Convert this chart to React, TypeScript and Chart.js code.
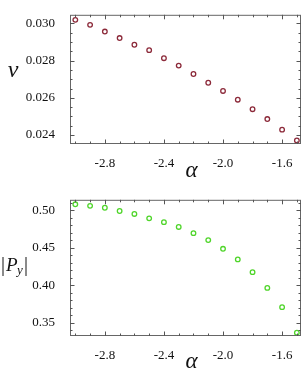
import React, { useEffect, useRef } from "react";
import { Chart, registerables } from "chart.js";

Chart.register(...registerables);

const alpha = [-3.0, -2.9, -2.8, -2.7, -2.6, -2.5, -2.4, -2.3, -2.2, -2.1, -2.0, -1.9, -1.8, -1.7, -1.6, -1.5];
const nu = [0.03019, 0.02992, 0.02956, 0.02921, 0.02885, 0.02856, 0.02813, 0.02773, 0.02728, 0.02681, 0.02637, 0.0259, 0.02539, 0.02486, 0.02429, 0.02371];
const py = [0.5081, 0.506, 0.5035, 0.4991, 0.4952, 0.4893, 0.4842, 0.4778, 0.4695, 0.4602, 0.4486, 0.4344, 0.4174, 0.3963, 0.3706, 0.3364];

const xMajorTicks = [-2.8, -2.4, -2.0, -1.6];
const nuMajorTicks = [0.024, 0.026, 0.028, 0.03];
const pyMajorTicks = [0.35, 0.4, 0.45, 0.5];

const FONT = '"Liberation Serif", "Times New Roman", serif';

type PanelCfg = {
  data: number[];
  color: string;
  yMin: number;
  yMax: number;
  yMajor: number[];
  yMinorStep: number;
  yDigits: number;
  padTop: number;
  xHeight: number;
  height: number;
  drawYLabel: (ctx: CanvasRenderingContext2D) => void;
  alphaY: number;
};

function makeFramePlugin(cfg: PanelCfg) {
  return {
    id: "frameTicks",
    afterDraw(chart: any) {
      const { ctx, chartArea } = chart;
      const xs = chart.scales.x;
      const ys = chart.scales.y;
      const { left, right, top, bottom } = chartArea;
      ctx.save();
      ctx.strokeStyle = "#666";
      ctx.lineWidth = 1;
      ctx.strokeRect(left + 0.5, top + 0.5, right - left - 1, bottom - top - 1);
      ctx.strokeStyle = "#555";
      for (let i = -34; i <= -14; i++) {
        const v = i / 10;
        const px = Math.round(xs.getPixelForValue(v)) + 0.5;
        if (px <= left + 1 || px >= right - 1) continue;
        const major = xMajorTicks.some((m) => Math.abs(m - v) < 1e-6);
        const len = major ? 4.5 : 2.5;
        ctx.beginPath();
        ctx.moveTo(px, bottom);
        ctx.lineTo(px, bottom - len);
        ctx.moveTo(px, top);
        ctx.lineTo(px, top + len);
        ctx.stroke();
      }
      const start = Math.floor(cfg.yMin / cfg.yMinorStep);
      const end = Math.ceil(cfg.yMax / cfg.yMinorStep);
      for (let i = start; i <= end; i++) {
        const v = i * cfg.yMinorStep;
        const pyx = Math.round(ys.getPixelForValue(v)) + 0.5;
        if (pyx <= top + 1 || pyx >= bottom - 1) continue;
        const major = cfg.yMajor.some((m) => Math.abs(m - v) < cfg.yMinorStep / 10);
        const len = major ? 4.5 : 2.5;
        ctx.beginPath();
        ctx.moveTo(left, pyx);
        ctx.lineTo(left + len, pyx);
        ctx.moveTo(right, pyx);
        ctx.lineTo(right - len, pyx);
        ctx.stroke();
      }
      ctx.fillStyle = "#111";
      ctx.textAlign = "center";
      ctx.textBaseline = "middle";
      ctx.font = `italic 23px ${FONT}`;
      ctx.fillText("\u03b1", 191.5, cfg.alphaY);
      cfg.drawYLabel(ctx);
      ctx.restore();
    },
  };
}

function Panel({ cfg }: { cfg: PanelCfg }) {
  const ref = useRef<HTMLCanvasElement | null>(null);
  useEffect(() => {
    if (!ref.current) return;
    const chart = new Chart(ref.current, {
      type: "scatter",
      data: {
        datasets: [
          {
            data: alpha.map((a, i) => ({ x: a, y: cfg.data[i] })),
            borderColor: cfg.color,
            backgroundColor: "rgba(255,255,255,0)",
            pointRadius: 2.3,
            pointBorderWidth: 1.3,
            showLine: false,
          },
        ],
      },
      options: {
        responsive: false,
        animation: false,
        layout: { autoPadding: false, padding: { top: cfg.padTop, right: 3, left: 0, bottom: 0 } },
        plugins: { legend: { display: false }, tooltip: { enabled: false } },
        scales: {
          x: {
            type: "linear",
            min: -3.036,
            max: -1.472,
            grid: { display: false },
            border: { display: false },
            afterBuildTicks: (s: any) => {
              s.ticks = xMajorTicks.map((v) => ({ value: v }));
            },
            afterFit: (s: any) => {
              s.height = cfg.xHeight;
            },
            ticks: {
              padding: 4,
              color: "#111",
              font: { family: FONT, size: 13 },
              maxRotation: 0,
              callback: (v: any) => Number(v).toFixed(1),
            },
          },
          y: {
            type: "linear",
            min: cfg.yMin,
            max: cfg.yMax,
            grid: { display: false },
            border: { display: false },
            afterBuildTicks: (s: any) => {
              s.ticks = cfg.yMajor.map((v) => ({ value: v }));
            },
            afterFit: (s: any) => {
              s.width = 70;
            },
            ticks: {
              padding: 7,
              color: "#111",
              font: { family: FONT, size: 13 },
              callback: (v: any) => Number(v).toFixed(cfg.yDigits),
            },
          },
        },
      },
      plugins: [makeFramePlugin(cfg)],
    } as any);
    return () => chart.destroy();
  }, []);
  return <canvas ref={ref} width={304} height={cfg.height} style={{ display: "block", width: 304, height: cfg.height }} />;
}

const topCfg: PanelCfg = {
  data: nu,
  color: "#8c2a3a",
  yMin: 0.02352,
  yMax: 0.03046,
  yMajor: nuMajorTicks,
  yMinorStep: 0.0005,
  yDigits: 3,
  padTop: 1,
  xHeight: 41,
  height: 185,
  alphaY: 171,
  drawYLabel: (ctx) => {
    ctx.font = `italic 24px ${FONT}`;
    ctx.fillText("\u03bd", 13, 71);
  },
};

const bottomCfg: PanelCfg = {
  data: py,
  color: "#4fd52a",
  yMin: 0.332,
  yMax: 0.5141,
  yMajor: pyMajorTicks,
  yMinorStep: 0.01,
  yDigits: 2,
  padTop: 9,
  xHeight: 33,
  height: 184,
  alphaY: 176.5,
  drawYLabel: (ctx) => {
    ctx.textAlign = "left";
    ctx.font = `20px ${FONT}`;
    ctx.fillText("|", 1, 81);
    ctx.font = `italic 19px ${FONT}`;
    ctx.fillText("P", 6, 81);
    ctx.font = `italic 13px ${FONT}`;
    ctx.fillText("y", 17, 86);
    ctx.font = `20px ${FONT}`;
    ctx.fillText("|", 24, 81);
  },
};

export default function App() {
  return (
    <div style={{ position: "absolute", left: 0, top: 0, width: 304, height: 369, background: "#fff" }}>
      <Panel cfg={topCfg} />
      <Panel cfg={bottomCfg} />
    </div>
  );
}
